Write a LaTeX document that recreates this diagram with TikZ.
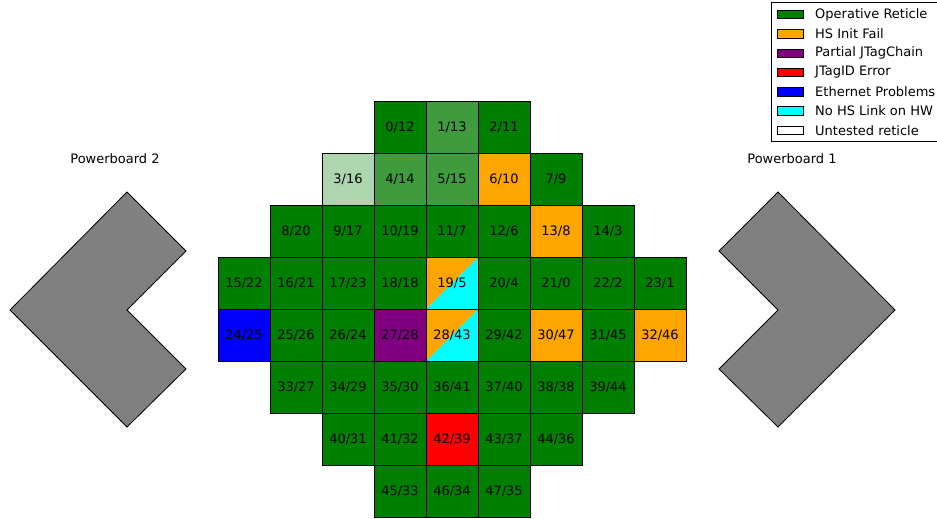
\documentclass[tikz,border=0pt]{standalone}
\usepackage{fontspec}
\setmainfont{DejaVu Sans}
\definecolor{opgreen}{RGB}{0,128,0}
\definecolor{midgreen}{RGB}{62,155,62}
\definecolor{lightgreen}{RGB}{174,214,174}
\definecolor{hsorange}{RGB}{255,165,0}
\definecolor{jpurple}{RGB}{128,0,128}
\definecolor{jred}{RGB}{255,0,0}
\definecolor{eblue}{RGB}{0,0,255}
\definecolor{hcyan}{RGB}{0,255,255}
\definecolor{pbgray}{RGB}{128,128,128}
\tikzset{
  cell/.style={draw=black, line width=0.8pt, minimum width=52pt, minimum height=52pt, inner sep=0pt, fill=opgreen, font=\fontsize{13pt}{15pt}\selectfont},
  split/.style={cell, fill=hcyan, path picture={\fill[hsorange] (path picture bounding box.south west) -- (path picture bounding box.north west) -- (path picture bounding box.north east) -- cycle;}},
  patch/.style={draw=black, line width=0.6pt, minimum width=26pt, minimum height=8.5pt, inner sep=0pt},
  legtext/.style={anchor=west, inner sep=0pt, font=\fontsize{13pt}{15pt}\selectfont},
  pblabel/.style={inner sep=0pt, font=\fontsize{13pt}{15pt}\selectfont},
  board/.style={fill=pbgray, draw=black, line width=0.8pt, line join=miter}
}
\begin{document}
\begin{tikzpicture}[x=1pt, y=-1pt]
\useasboundingbox (0,0) rectangle (937,519);
% Powerboards
\draw[board] (127,192) -- (186,251) -- (127,310) -- (186,369) -- (127,427) -- (10,310) -- cycle;
\draw[board] (778,192) -- (719,251) -- (778,310) -- (719,369) -- (778,427) -- (895,310) -- cycle;
\node[pblabel] (pb2) at (115,159) {Powerboard 2};
\node[pblabel] (pb1) at (792,159) {Powerboard 1};
% grid: center x = 244 + 52*c, center y = 127 + 52*r
% row 0
\node[cell] (c0) at (400,127) {0/12};
\node[cell, fill=midgreen] (c1) at (452,127) {1/13};
\node[cell] (c2) at (504,127) {2/11};
% row 1
\node[cell, fill=lightgreen] (c3) at (348,179) {3/16};
\node[cell, fill=midgreen] (c4) at (400,179) {4/14};
\node[cell, fill=midgreen] (c5) at (452,179) {5/15};
\node[cell, fill=hsorange] (c6) at (504,179) {6/10};
\node[cell] (c7) at (556,179) {7/9};
% row 2
\node[cell] (c8) at (296,231) {8/20};
\node[cell] (c9) at (348,231) {9/17};
\node[cell] (c10) at (400,231) {10/19};
\node[cell] (c11) at (452,231) {11/7};
\node[cell] (c12) at (504,231) {12/6};
\node[cell, fill=hsorange] (c13) at (556,231) {13/8};
\node[cell] (c14) at (608,231) {14/3};
% row 3
\node[cell] (c15) at (244,283) {15/22};
\node[cell] (c16) at (296,283) {16/21};
\node[cell] (c17) at (348,283) {17/23};
\node[cell] (c18) at (400,283) {18/18};
\node[split] (c19) at (452,283) {19/5};
\node[cell] (c20) at (504,283) {20/4};
\node[cell] (c21) at (556,283) {21/0};
\node[cell] (c22) at (608,283) {22/2};
\node[cell] (c23) at (660,283) {23/1};
% row 4
\node[cell, fill=eblue] (c24) at (244,335) {24/25};
\node[cell] (c25) at (296,335) {25/26};
\node[cell] (c26) at (348,335) {26/24};
\node[cell, fill=jpurple] (c27) at (400,335) {27/28};
\node[split] (c28) at (452,335) {28/43};
\node[cell] (c29) at (504,335) {29/42};
\node[cell, fill=hsorange] (c30) at (556,335) {30/47};
\node[cell] (c31) at (608,335) {31/45};
\node[cell, fill=hsorange] (c32) at (660,335) {32/46};
% row 5
\node[cell] (c33) at (296,387) {33/27};
\node[cell] (c34) at (348,387) {34/29};
\node[cell] (c35) at (400,387) {35/30};
\node[cell] (c36) at (452,387) {36/41};
\node[cell] (c37) at (504,387) {37/40};
\node[cell] (c38) at (556,387) {38/38};
\node[cell] (c39) at (608,387) {39/44};
% row 6
\node[cell] (c40) at (348,439) {40/31};
\node[cell] (c41) at (400,439) {41/32};
\node[cell, fill=jred] (c42) at (452,439) {42/39};
\node[cell] (c43) at (504,439) {43/37};
\node[cell] (c44) at (556,439) {44/36};
% row 7
\node[cell] (c45) at (400,491) {45/33};
\node[cell] (c46) at (452,491) {46/34};
\node[cell] (c47) at (504,491) {47/35};
% legend
\draw[line width=0.8pt, fill=white] (771.5,2.5) rectangle (940,141);
\node[patch, fill=opgreen] (l1) at (790,14.5) {};
\node[legtext] (t1) at (815,14.5) {Operative Reticle};
\node[patch, fill=hsorange] (l2) at (790,33.8) {};
\node[legtext] (t2) at (815,33.8) {HS Init Fail};
\node[patch, fill=jpurple] (l3) at (790,53.1) {};
\node[legtext] (t3) at (815,53.1) {Partial JTagChain};
\node[patch, fill=jred] (l4) at (790,72.4) {};
\node[legtext] (t4) at (815,72.4) {JTagID Error};
\node[patch, fill=eblue] (l5) at (790,91.7) {};
\node[legtext] (t5) at (815,91.7) {Ethernet Problems};
\node[patch, fill=hcyan] (l6) at (790,111) {};
\node[legtext] (t6) at (815,111) {No HS Link on HW};
\node[patch, fill=white] (l7) at (790,130.3) {};
\node[legtext] (t7) at (815,130.3) {Untested reticle};
\end{tikzpicture}
\end{document}
